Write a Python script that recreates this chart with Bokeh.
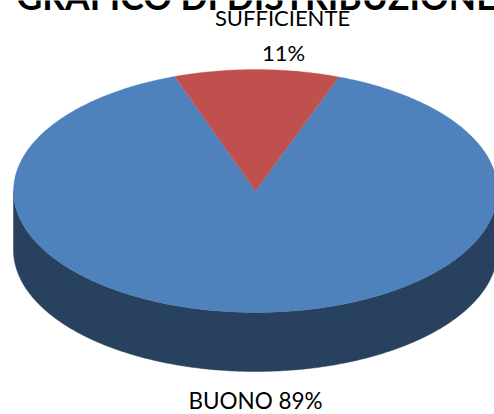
import numpy as np
from bokeh.plotting import figure
from bokeh.models import Range1d
from bokeh.core.properties import value
from bokeh.embed import file_html
from bokeh.resources import INLINE

TITLE = "GRAFICO DI DISTRIBUZIONE"
categories = ["BUONO", "SUFFICIENTE"]
shares = [89, 11]
colors = ["#4F81BD", "#C0504D"]
side_color = "#28415F"

W, H = 494, 414
cx, cy, rx, ry, depth = 255, 190.5, 242, 121.5, 59

p = figure(width=W, height=H, output_backend="svg", toolbar_location=None,
           x_range=Range1d(0, W), y_range=Range1d(H, 0),
           min_border=0, min_border_left=0, min_border_right=0,
           min_border_top=0, min_border_bottom=0, outline_line_color=None)
p.axis.visible = False
p.grid.visible = False

red_frac = shares[1] / sum(shares)
start = -np.pi * red_frac + np.radians(0.3)  # clockwise from top
red_t = np.linspace(start, start + 2 * np.pi * red_frac, 60)
blue_t = np.linspace(red_t[-1], start + 2 * np.pi, 400)

# side wall
t = np.linspace(np.pi / 2, 3 * np.pi / 2, 300)
ex = cx + rx * np.sin(t)
ey = cy - ry * np.cos(t)
p.patch(np.r_[ex, ex[::-1]], np.r_[ey, ey[::-1] + depth],
        fill_color=side_color, line_color=side_color, line_width=0.5)

# top faces
for tt, c in ((blue_t, colors[0]), (red_t, colors[1])):
    xs = np.r_[cx, cx + rx * np.sin(tt)]
    ys = np.r_[cy, cy - ry * np.cos(tt)]
    p.patch(xs, ys, fill_color=c, line_color=c, line_width=0.3)

font = value("Lato")
p.text([256], [-4], text=[TITLE], text_font=font, text_font_style="bold",
       text_font_size="35.5px", text_align="center", text_baseline="alphabetic", text_color="#000000")
p.text([282], [17], text=[categories[1]], text_font=font, text_font_size="22px",
       text_align="center", text_baseline="middle", text_color="#000000")
p.text([283], [52], text=[f"{shares[1]}%"], text_font=font, text_font_size="22px",
       text_align="center", text_baseline="middle", text_color="#000000")
p.text([255], [400], text=[f"{categories[0]} {shares[0]}%"], text_font=font, text_font_size="22.5px",
       text_align="center", text_baseline="middle", text_color="#000000")

open("out.html", "w").write(file_html(p, INLINE))
